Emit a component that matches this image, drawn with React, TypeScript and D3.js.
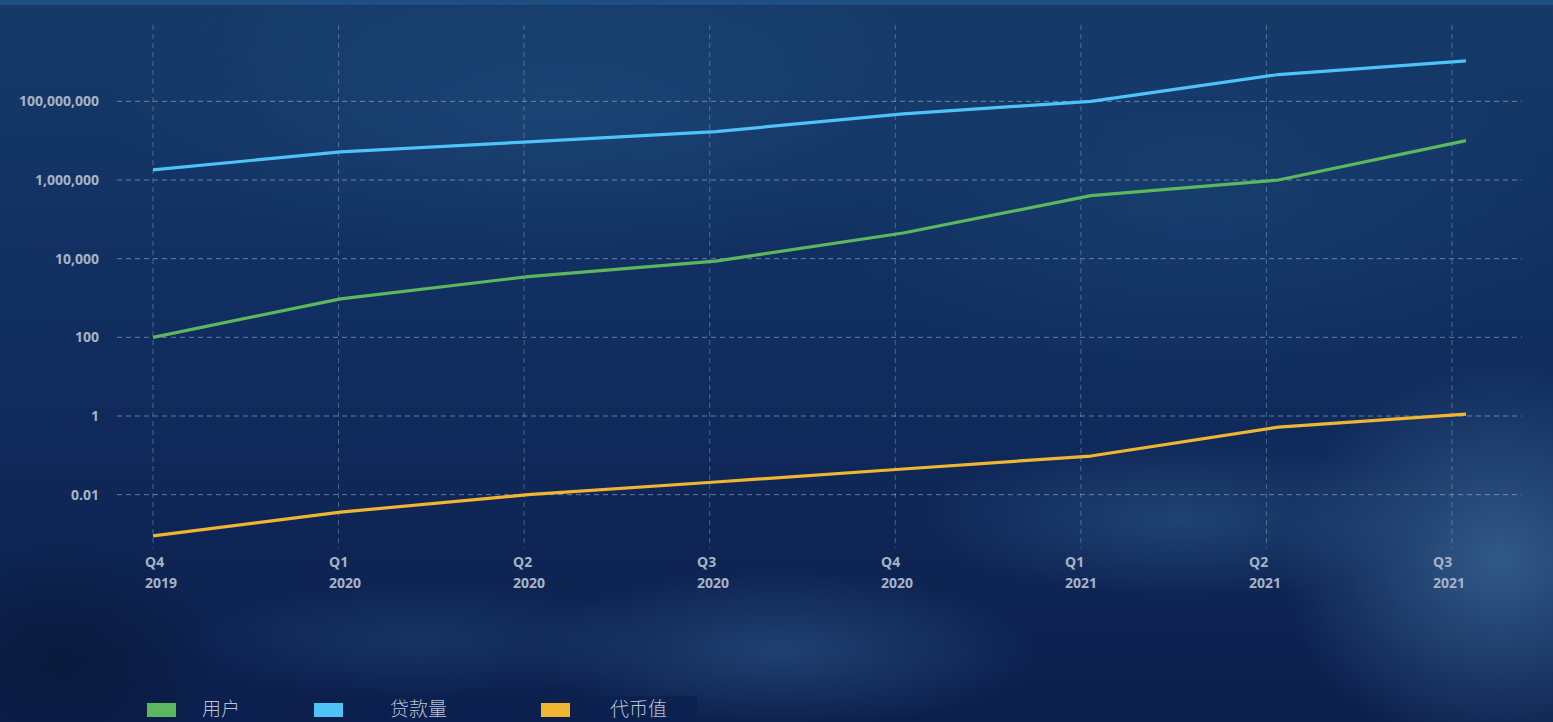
import React, { useEffect, useRef } from 'react';
import * as d3 from 'd3';

const quarters = ['Q4', 'Q1', 'Q2', 'Q3', 'Q4', 'Q1', 'Q2', 'Q3'];
const years = ['2019', '2020', '2020', '2020', '2020', '2021', '2021', '2021'];
const yTicks = [0.01, 1, 100, 10000, 1000000, 100000000];

const users = [100, 950, 3500, 8700, 45000, 400000, 1000000, 10000000];
const loans = [1800000, 5200000, 9300000, 17000000, 48000000, 100000000, 480000000, 1070000000];
const tokenValue = [0.0009, 0.0036, 0.01, 0.021, 0.045, 0.096, 0.52, 1.12];

const seriesNames = ['用户', '贷款量', '代币值'];
const seriesColors = ['#5cb85c', '#4fc3f7', '#f0b631'];

const W = 1553, H = 722;

const App = () => {
  const ref = useRef<SVGSVGElement>(null);

  useEffect(() => {
    const svg = d3.select(ref.current);
    svg.selectAll('*').remove();

    const defs = svg.append('defs');
    const bg = defs.append('linearGradient').attr('id', 'bg').attr('x1', 0).attr('y1', 0).attr('x2', 0).attr('y2', 1);
    bg.append('stop').attr('offset', '0%').attr('stop-color', '#153b69');
    bg.append('stop').attr('offset', '50%').attr('stop-color', '#102c5e');
    bg.append('stop').attr('offset', '100%').attr('stop-color', '#0c1f4c');

    svg.append('rect').attr('width', W).attr('height', H).attr('fill', 'url(#bg)');
    svg.append('rect').attr('width', W).attr('height', 5).attr('fill', '#1c4f82');

    // soft cloud patches as radial gradients
    const clouds = [
      { cx: 560, cy: 110, rx: 450, ry: 150, c: '#1f4c7c', o: 0.6 },
      { cx: 1200, cy: 200, rx: 380, ry: 180, c: '#1d4a7a', o: 0.45 },
      { cx: 1500, cy: 560, rx: 220, ry: 200, c: '#41709f', o: 0.7 },
      { cx: 1180, cy: 520, rx: 260, ry: 80, c: '#2d5a8a', o: 0.55 },
      { cx: 780, cy: 650, rx: 260, ry: 80, c: '#2f5a8b', o: 0.55 },
      { cx: 420, cy: 640, rx: 240, ry: 60, c: '#21497a', o: 0.45 },
      { cx: 60, cy: 660, rx: 160, ry: 120, c: '#07142f', o: 0.6 },
    ];
    clouds.forEach((c, i) => {
      const g = defs.append('radialGradient').attr('id', `cl${i}`);
      g.append('stop').attr('offset', '0%').attr('stop-color', c.c).attr('stop-opacity', c.o);
      g.append('stop').attr('offset', '55%').attr('stop-color', c.c).attr('stop-opacity', c.o * 0.45);
      g.append('stop').attr('offset', '100%').attr('stop-color', c.c).attr('stop-opacity', 0);
    });
    svg.append('g').selectAll('ellipse').data(clouds).enter().append('ellipse')
      .attr('cx', d => d.cx).attr('cy', d => d.cy).attr('rx', d => d.rx).attr('ry', d => d.ry)
      .attr('fill', (_, i) => `url(#cl${i})`);

    const idx = d3.range(quarters.length);
    const xGrid = d3.scaleLinear().domain([0, 7]).range([153, 1452]);
    const xData = d3.scaleLinear().domain([0, 7]).range([153, 1466]);
    const xLabel = d3.scaleLinear().domain([0, 7]).range([145, 1433]);
    const y = d3.scaleLog().domain([1e-3, 1e9]).range([534, 62]);

    const grid = svg.append('g').attr('stroke', 'rgba(190,205,230,0.35)').attr('stroke-dasharray', '5 4').attr('stroke-width', 1);
    grid.selectAll('line.v').data(idx).enter().append('line')
      .attr('x1', d => xGrid(d)).attr('x2', d => xGrid(d)).attr('y1', 25).attr('y2', 548);
    grid.selectAll('line.h').data(yTicks).enter().append('line')
      .attr('x1', 117).attr('x2', 1522).attr('y1', d => y(d)).attr('y2', d => y(d))
      .attr('stroke', 'rgba(190,205,230,0.5)');

    const fmt = d3.format(',');
    svg.append('g').selectAll('text').data(yTicks).enter().append('text')
      .attr('x', 99).attr('y', d => y(d)).attr('dy', '0.35em').attr('text-anchor', 'end')
      .attr('font-family', '"Open Sans", "Noto Sans", sans-serif').attr('font-weight', 700).attr('font-size', 14)
      .attr('fill', '#a7b3c6')
      .text(d => (d < 1 ? String(d) : fmt(d)));

    const xl = svg.append('g').attr('font-family', '"Open Sans", "Noto Sans", sans-serif').attr('font-weight', 700)
      .attr('font-size', 14).attr('fill', '#a7b3c6');
    xl.selectAll('text.q').data(idx).enter().append('text')
      .attr('x', d => xLabel(d)).attr('y', 567).text(d => quarters[d]);
    xl.selectAll('text.y').data(idx).enter().append('text')
      .attr('x', d => xLabel(d)).attr('y', 588).text(d => years[d]);

    const line = d3.line<number>().x((_, i) => xData(i)).y(d => y(d));
    [users, loans, tokenValue].forEach((s, k) => {
      svg.append('path').datum(s).attr('d', line).attr('fill', 'none')
        .attr('stroke', seriesColors[k]).attr('stroke-width', 3.2).attr('stroke-linejoin', 'round');
    });

    // legend
    const legendX = [147, 314, 541];
    const boxW = [68, 167, 117];
    const lg = svg.append('g');
    seriesNames.forEach((name, k) => {
      const g = lg.append('g').attr('transform', `translate(${legendX[k]},0)`);
      g.append('rect').attr('x', 0).attr('y', 703).attr('width', 29).attr('height', 14).attr('fill', seriesColors[k]);
      g.append('rect').attr('x', k === 0 ? 42 : 39).attr('y', 696).attr('width', boxW[k]).attr('height', 26).attr('fill', '#0c2150').attr('opacity', 0.85);
      g.append('text').attr('x', k === 0 ? 55 : k === 1 ? 76 : 69).attr('y', 716)
        .attr('font-family', '"Noto Sans CJK SC", sans-serif').attr('font-weight', 300).attr('font-size', 19)
        .attr('fill', '#b8c4d6').text(name);
    });
  }, []);

  return (
    <svg ref={ref} width={W} height={H} style={{ position: 'fixed', left: 0, top: 0, display: 'block' }} />
  );
};

export default App;
